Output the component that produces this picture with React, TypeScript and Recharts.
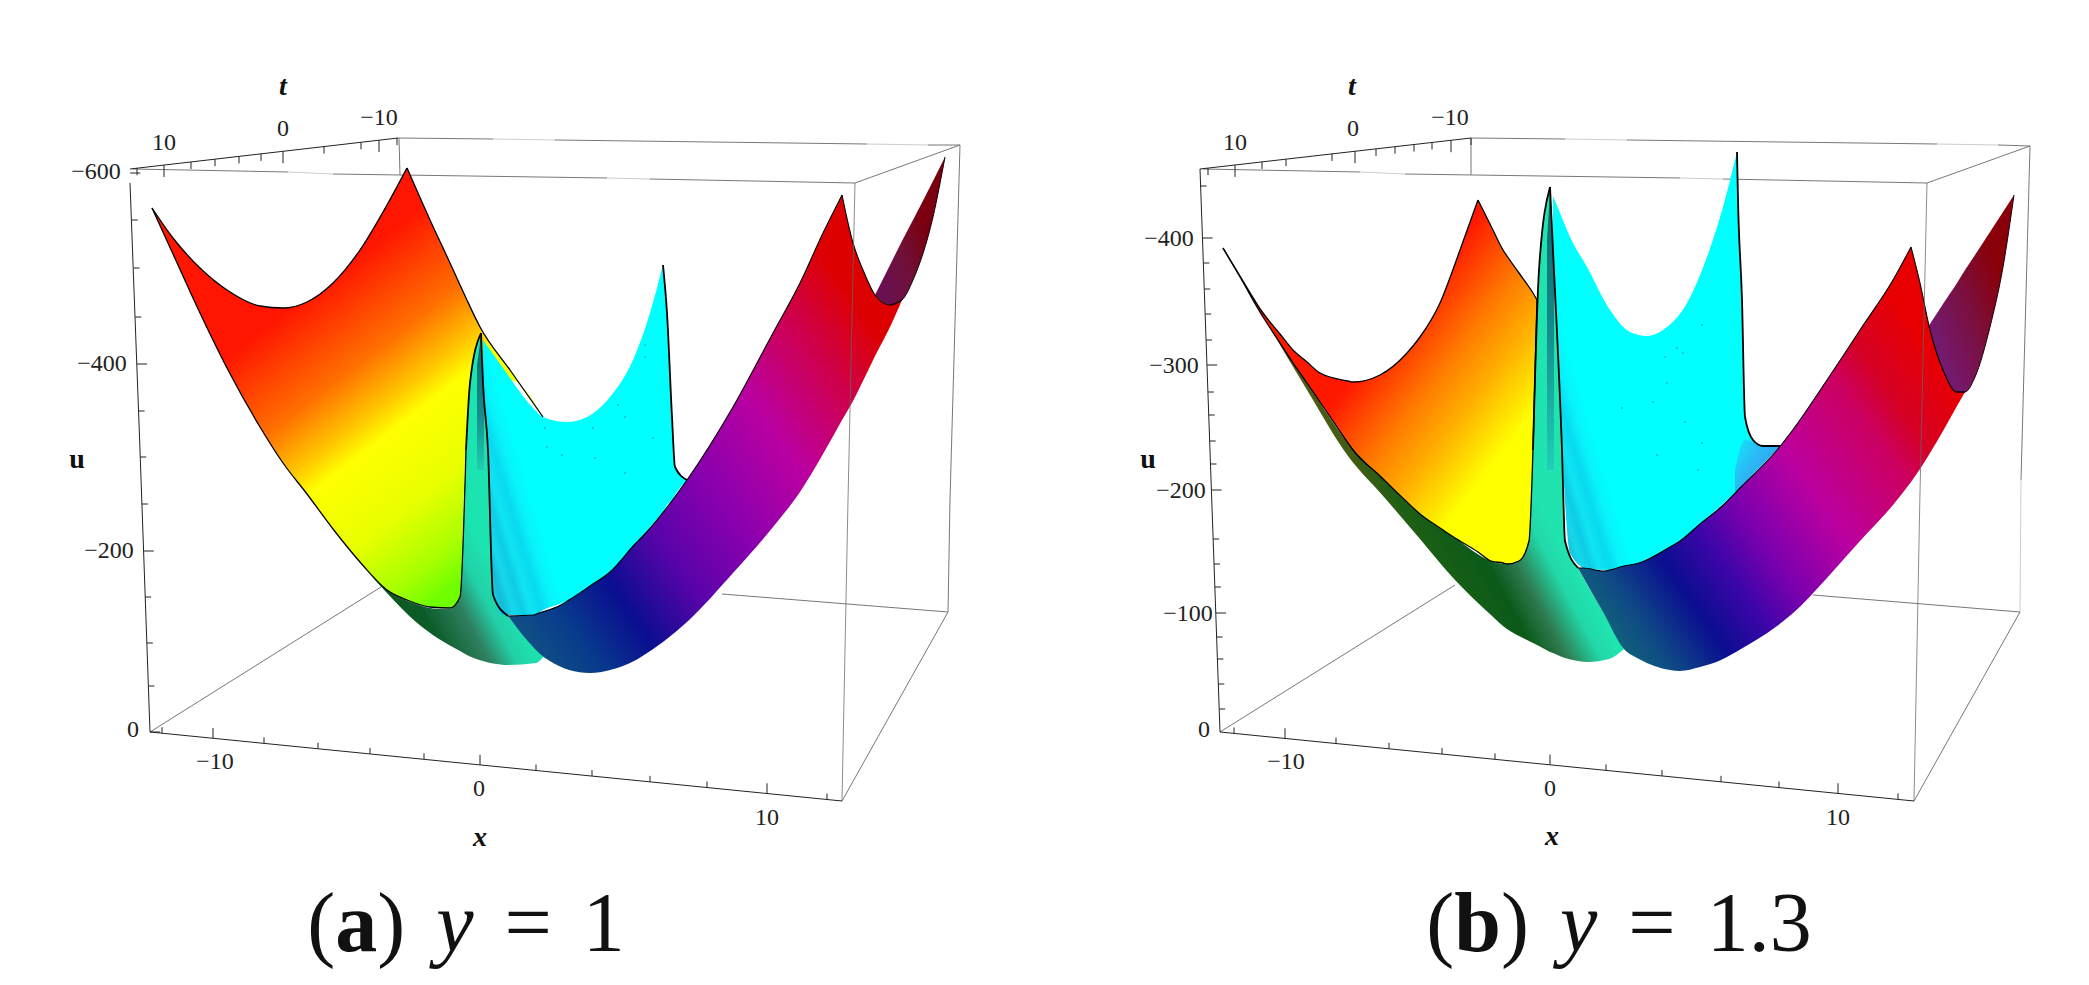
import { ComposedChart, Area, Line, Scatter, XAxis, YAxis } from "recharts";

const redXA = [152, 173, 200, 227, 260, 283, 307, 333, 360, 387, 407, 430, 450, 460, 466, 480, 510, 543];
const redTopA = [208, 238, 268, 290, 306, 308, 302, 283, 250, 205, 168, 220, 263, 285, 298, 327, 370, 417];
const redBottomA = [208, 254, 313, 368, 427, 463, 494, 529, 562, 590, 600, 607, 608, 597, 450, 400, 380, 417];

const tealXA = [350, 386, 416, 439, 449, 460, 466, 470, 481, 483, 488, 493, 508, 536, 544];
const tealTopA = [551, 589, 604, 609, 609, 597, 450, 383, 333, 383, 450, 595, 616, 647, 656];
const tealBottomA = [551, 592, 622, 639, 645, 651, 654.5, 656.5, 660.5, 661, 662.5, 663.5, 665, 663, 656];

const coreXA = [477, 481, 484];
const coreTopA = [365, 336, 390];
const coreBottomA = [470, 470, 470];

const cyanXA = [483, 488, 493, 503, 534, 543, 567, 587, 610, 633, 650, 663, 667, 672, 675, 687];
const cyanTopA = [340, 347, 354, 368, 409, 417, 422, 417, 397, 360, 313, 265, 313, 417, 467, 480];
const cyanBottomA = [383, 450, 595, 615, 615, 610, 601, 589, 572, 547, 527, 512, 505, 500, 495, 480];

const backXA = [875, 890, 902, 913, 933, 945];
const backTopA = [295, 265, 241, 220, 181, 157];
const backBottomA = [295, 305, 300, 280, 217, 157];

const frontXA = [508, 534, 539, 559, 569, 590, 610, 636, 641, 687, 733, 773, 800, 823, 842, 853, 863, 875, 890, 902];
const frontTopA = [616, 615, 613, 606, 600, 586, 572, 543, 538, 480, 407, 333, 283, 233, 195, 243, 270, 295, 305, 300];
const frontBottomA = [616, 648, 653, 666, 670, 673, 670, 660, 657, 622, 573, 527, 492, 454, 420, 401, 381, 356, 327, 300];

const redXB = [1223, 1240, 1263, 1280, 1293, 1307, 1320, 1348, 1353, 1380, 1407, 1420, 1440, 1455, 1460, 1478, 1491, 1503, 1507, 1519, 1529, 1533, 1537];
const redTopB = [248, 276, 313, 334, 350, 362, 373, 381, 382, 375, 353, 337, 303, 264, 250, 200, 226, 250, 256, 273, 287, 293, 300];
const redBottomB = [248, 277, 317, 343, 363, 383, 402, 443, 450, 476, 502, 514, 528, 538, 541, 552, 561, 563, 564, 561, 541, 450, 300];

const tealXB = [1270, 1307, 1348, 1384, 1420, 1455, 1491, 1507, 1519, 1529, 1533, 1539, 1550, 1553, 1562, 1565, 1578, 1588, 1609, 1624];
const tealTopB = [327, 383, 443, 480, 514, 538, 561, 564, 561, 541, 450, 270, 187, 250, 450, 541, 568, 586, 622, 649];
const tealBottomB = [328, 390, 456, 497, 539, 580, 615, 629, 636, 641, 643, 646, 652, 653, 657, 658, 661, 662, 659, 649];

const coreXB = [1547, 1550, 1554];
const coreTopB = [240, 190, 270];
const coreBottomB = [470, 470, 470];

const cyanXB = [1553, 1560, 1570, 1587, 1610, 1630, 1647, 1663, 1687, 1707, 1723, 1737, 1738, 1742, 1745, 1753, 1763, 1780];
const cyanTopB = [196, 213, 237, 267, 310, 332, 336, 330, 303, 257, 207, 152, 200, 300, 417, 440, 446, 446];
const cyanBottomB = [250, 405, 553, 569, 570, 566, 559, 551, 536, 518, 504, 491, 490, 486, 483, 474, 464, 446];

const shadeXB = [1735, 1745, 1753, 1763, 1780];
const shadeTopB = [470, 440, 441, 446, 446];
const shadeBottomB = [492, 483, 474, 464, 446];

const backXB = [1928, 1943, 1957, 1965, 1975, 1990, 2003, 2014];
const backTopB = [327, 304, 283, 270, 255, 232, 212, 195];
const backBottomB = [327, 370, 392, 392, 377, 327, 267, 195];

const frontXB = [1578, 1583, 1603, 1624, 1639, 1670, 1680, 1700, 1721, 1741, 1777, 1792, 1827, 1843, 1860, 1893, 1911, 1920, 1930, 1943, 1957, 1965];
const frontTopB = [568, 568, 571, 566, 563, 547, 541, 524, 507, 487, 450, 431, 380, 356, 330, 280, 247, 283, 330, 370, 392, 392];
const frontBottomB = [568, 577, 612, 649, 659, 670, 671, 667, 660, 649, 626, 614, 578, 560, 541, 505, 482, 469, 453, 431, 406, 392];

const specksA = [[545, 428], [618, 405], [625, 417], [645, 345], [645, 357], [653, 438], [593, 428], [595, 458], [562, 455], [547, 447], [625, 473]];
const specksB = [[1702, 325], [1677, 348], [1683, 353], [1665, 357], [1667, 383], [1653, 402], [1622, 408], [1685, 422], [1702, 443], [1657, 455], [1698, 470]];

// box edges behind the surfaces, each run is a list of corners
const boxBackA = [
  [[133, 169], [288, 172]], [[333, 174], [607, 178]], [[650, 179], [855, 183]],
  [[398, 138], [493, 139]], [[555, 140], [867, 144]], [[928, 145], [960, 145]],
  [[399, 138], [400, 175]], [[855, 183], [960, 145]], [[960, 145], [950, 500], [948, 612]],
  [[842, 801], [948, 612]], [[722, 594], [948, 612]], [[150, 732], [381, 587]],
];
const boxBackB = [
  [[1203, 169], [1360, 172]], [[1405, 174], [1680, 178]], [[1723, 179], [1927, 183]],
  [[1471, 138], [1565, 139]], [[1627, 140], [1937, 144]], [[1998, 145], [2030, 146]],
  [[1471, 138], [1471, 175]], [[1927, 183], [2030, 146]], [[2030, 146], [2021, 480]],
  [[1914, 801], [2020, 612]], [[1813, 595], [2020, 612]], [[1220, 732], [1455, 585]],
];
// the same edges fade out in the scan, these runs bridge the pale stretches
const boxFaint = [
  [[288, 172], [333, 174]], [[607, 178], [650, 179]], [[493, 139], [555, 140]], [[867, 144], [928, 145]],
  [[1360, 172], [1405, 174]], [[1680, 178], [1723, 179]], [[1565, 139], [1627, 140]], [[1937, 144], [1998, 145]],
  [[2021, 480], [2020, 612]],
];
const boxFrontA = [[[855, 183], [848, 500], [842, 801]]];
const boxFrontB = [[[1927, 183], [1920, 492], [1914, 801]]];

const zTicksA = [173, 220, 268, 317, 364, 411, 457, 504, 551, 597, 643, 686, 732];
const zMajorA = [173, 364, 551, 732];
const zTicksB = [186, 238, 263, 289, 314, 340, 365, 392, 415, 441, 464, 490, 539, 564, 587, 613, 637, 659, 684, 709];
const zMajorB = [238, 365, 490, 613];
const tTicksA = [137, 164, 191, 215, 239, 261, 283, 324, 361, 379, 397];
const tMajorA = [164, 283, 379];
const tTicksB = [1208, 1235, 1262, 1286, 1332, 1355, 1376, 1395, 1414, 1432, 1451, 1471];
const tMajorB = [1235, 1355, 1451];
const xTicksA = [162, 213, 264, 318, 370, 424, 480, 536, 592, 650, 707, 767, 827];
const xMajorA = [213, 480, 767];
const xTicksB = [1234, 1285, 1336, 1389, 1442, 1495, 1550, 1606, 1662, 1721, 1779, 1838, 1898];
const xMajorB = [1285, 1550, 1838];

const tickLabels = [
  { x: 164, y: 142, text: "10" }, { x: 283, y: 128, text: "0" }, { x: 379, y: 117, text: "−10" },
  { x: 96, y: 171, text: "−600" }, { x: 102, y: 363, text: "−400" }, { x: 109, y: 550, text: "−200" },
  { x: 133, y: 729, text: "0" }, { x: 215, y: 761, text: "−10" }, { x: 479, y: 788, text: "0" }, { x: 767, y: 817, text: "10" },
  { x: 1235, y: 142, text: "10" }, { x: 1353, y: 128, text: "0" }, { x: 1450, y: 117, text: "−10" },
  { x: 1169, y: 238, text: "−400" }, { x: 1174, y: 365, text: "−300" }, { x: 1181, y: 490, text: "−200" },
  { x: 1188, y: 613, text: "−100" }, { x: 1204, y: 729, text: "0" }, { x: 1286, y: 761, text: "−10" },
  { x: 1550, y: 788, text: "0" }, { x: 1838, y: 817, text: "10" },
];
const axisNames = [
  { x: 283, y: 85, text: "t", italic: true }, { x: 77, y: 458, text: "u", italic: false }, { x: 480, y: 836, text: "x", italic: true },
  { x: 1352, y: 85, text: "t", italic: true }, { x: 1148, y: 458, text: "u", italic: false }, { x: 1552, y: 835, text: "x", italic: true },
];
const captions = [
  { x: 466, y: 922, tag: "a", value: "1" },
  { x: 1619, y: 922, tag: "b", value: "1.3" },
];

const zip = (xs: number[], ys: number[]) => xs.map((x, i) => ({ x, y: ys[i] }));
const band = (xs: number[], top: number[], bottom: number[]) => xs.map((x, i) => ({ x, range: [top[i], bottom[i]] }));
const runs = (list: number[][][]) => list.flatMap((run) => [...run.map(([x, y]) => ({ x, y })), { x: run[run.length - 1][0], y: null }]);
// spline pieces meet at the cusps so the tips stay sharp
const cut = <T,>(list: T[], at: number[]) => {
  const ends = [0, ...at, list.length - 1];
  return ends.slice(1).map((e, i) => list.slice(ends[i], e + 1));
};

// tick marks hang off an axis edge; the base point slides along the edge
const ticks = (from: number[], to: number[], along: number[], major: number[], dx: number, dy: number, vertical: boolean) =>
  along.flatMap((v) => {
    const t = vertical ? (v - from[1]) / (to[1] - from[1]) : (v - from[0]) / (to[0] - from[0]);
    const x = from[0] + t * (to[0] - from[0]);
    const y = from[1] + t * (to[1] - from[1]);
    const k = major.includes(v) ? 1.7 : 1;
    return [{ x, y }, { x: x + dx * k, y: y + dy * k }, { x, y: null }];
  });

const axesA = [
  ...runs([[[130, 169], [398, 138]], [[130, 183], [140, 450], [150, 732]], [[150, 732], [842, 801]]]),
  ...ticks([130, 169], [150, 732], zTicksA, zMajorA, 6, 0, true),
  ...ticks([130, 169], [398, 138], tTicksA, tMajorA, 0, 7, false),
  ...ticks([150, 732], [842, 801], xTicksA, xMajorA, 0, -6, false),
];
const axesB = [
  ...runs([[[1200, 169], [1471, 138]], [[1200, 169], [1220, 732]], [[1220, 732], [1914, 801]]]),
  ...ticks([1200, 169], [1220, 732], zTicksB, zMajorB, 6, 0, true),
  ...ticks([1200, 169], [1471, 138], tTicksB, tMajorB, 0, 7, false),
  ...ticks([1220, 732], [1914, 801], xTicksB, xMajorB, 0, -6, false),
];

type Stop = [number, string];
const Grad = ({ id, v, stops }: { id: string; v: number[]; stops: Stop[] }) => (
  <linearGradient id={id} gradientUnits="userSpaceOnUse" x1={v[0]} y1={v[1]} x2={v[2]} y2={v[3]}>
    {stops.map(([o, c]) => (
      <stop key={o} offset={o} stopColor={c} />
    ))}
  </linearGradient>
);

const cyanStops: Stop[] = [
  [0, "#1aa8c4"], [0.08, "#1cc8e0"], [0.16, "#14bcd8"], [0.24, "#16d8ea"], [0.32, "#0ecce6"],
  [0.4, "#10e4f2"], [0.5, "#08daf0"], [0.6, "#08f2fa"], [0.72, "#00ffff"], [1, "#00ffff"],
];
const sheet = (key: string, data: object[], fill: string, at: number[] = []) =>
  cut(data, at).map((piece, i) => (
    <Area key={key + i} data={piece} dataKey="range" type="monotoneX" stroke="none" fill={fill} fillOpacity={1} dot={false} activeDot={false} isAnimationActive={false} zIndex={100} />
  ));
const edge = (key: string, data: object[], at: number[] = [], width = 1.3, color = "#000") =>
  cut(data, at).map((piece, i) => (
    <Line key={key + i} data={piece} dataKey="y" type="monotoneX" stroke={color} strokeWidth={width} dot={false} activeDot={false} isAnimationActive={false} zIndex={400} />
  ));
const box = (key: string, data: object[], color: string, opacity = 1, z = 50) => (
  <Line key={key} data={data} dataKey="y" type="linear" stroke={color} strokeWidth={1} strokeOpacity={opacity} dot={false} activeDot={false} isAnimationActive={false} zIndex={z} />
);

const TickText = (p: any) => (
  <text x={p.cx} y={p.cy} textAnchor="middle" dominantBaseline="central" fontFamily="Liberation Serif" fontSize={24} fill="#222">
    {p.payload.text}
  </text>
);
const NameText = (p: any) => (
  <text x={p.cx} y={p.cy} textAnchor="middle" dominantBaseline="central" fontFamily="Liberation Serif" fontSize={28} fontWeight="bold" fontStyle={p.payload.italic ? "italic" : "normal"} fill="#111">
    {p.payload.text}
  </text>
);
const CaptionText = (p: any) => (
  <text x={p.cx} y={p.cy} textAnchor="middle" dominantBaseline="central" fontFamily="Liberation Serif" fontSize={84} wordSpacing={10} fill="#111">
    (<tspan fontWeight="bold">{p.payload.tag}</tspan>) <tspan fontStyle="italic">y</tspan> = {p.payload.value}
  </text>
);
const Speck = (p: any) => <circle cx={p.cx} cy={p.cy} r={0.8} fill="#0a8fa0" />;

export default function App() {
  return (
    <div style={{ position: "absolute", left: 0, top: 0, width: 2089, height: 985, background: "#fff" }}>
      <ComposedChart width={2089} height={985} margin={{ top: 0, right: 0, bottom: 0, left: 0 }}>
        <defs>
          <Grad id="redA" v={[300, 300, 495, 553]} stops={[[0, "#ff1500"], [0.27, "#ff7000"], [0.42, "#ffc800"], [0.5, "#ffff00"], [0.72, "#e8ff00"], [0.9, "#a8ff00"], [1, "#70ff00"]]} />
          <Grad id="redB" v={[1300, 446, 1474, 580]} stops={[[0, "#ff1800"], [0.3, "#ff7a00"], [0.5, "#ffb000"], [0.75, "#ffff00"], [1, "#ffff00"]]} />
          <Grad id="tealA" v={[350, 551, 456, 495]} stops={[[0, "#0a5a14"], [0.3, "#0c5c2a"], [0.6, "#2f8060"], [0.8, "#22d0a8"], [1, "#1ce4b0"]]} />
          <Grad id="tealB" v={[1300, 391, 1441, 316]} stops={[[0, "#5d5a12"], [0.22, "#1d5f14"], [0.53, "#0a5a1a"], [0.69, "#2f7a50"], [0.88, "#22d8a8"], [1, "#20e4b0"]]} />
          <Grad id="coreA" v={[0, 335, 0, 470]} stops={[[0, "#0c6468"], [0.6, "#12908c"], [1, "#20d0b0"]]} />
          <Grad id="coreB" v={[0, 190, 0, 470]} stops={[[0, "#0c6468"], [0.5, "#128c8c"], [1, "#20d0b8"]]} />
          <Grad id="cyanA" v={[490, 620, 590, 590]} stops={cyanStops} />
          <Grad id="cyanB" v={[1565, 600, 1665, 570]} stops={cyanStops} />
          <Grad id="shadeB" v={[1735, 440, 1780, 470]} stops={[[0, "#10e8fa"], [0.5, "#2cb8f4"], [1, "#2a9cf0"]]} />
          <Grad id="backA" v={[885, 290, 940, 270]} stops={[[0, "#6a1050"], [0.5, "#701038"], [1, "#7a0010"]]} />
          <Grad id="backB" v={[1930, 330, 2010, 300]} stops={[[0, "#741a72"], [0.5, "#7a1040"], [1, "#8a0008"]]} />
          <Grad id="frontA" v={[520, 748, 979, 429]} stops={[[0, "#10607a"], [0.12, "#0f4f85"], [0.2, "#083a8c"], [0.3, "#0a0e90"], [0.42, "#5a03aa"], [0.55, "#8a00ae"], [0.7, "#bb00a0"], [0.85, "#d00045"], [0.95, "#dd0000"], [1, "#dd0000"]]} />
          <Grad id="frontB" v={[1600, 617, 1961, 366]} stops={[[0, "#10607a"], [0.07, "#0f4a85"], [0.19, "#0a0e90"], [0.3, "#3d05a8"], [0.4, "#7a00ae"], [0.56, "#bb00a0"], [0.75, "#cc0060"], [0.83, "#d50025"], [0.97, "#e80000"], [1, "#e80000"]]} />
        </defs>
        <XAxis dataKey="x" type="number" domain={[0, 2089]} allowDataOverflow hide />
        <YAxis dataKey="y" type="number" domain={[0, 985]} reversed allowDataOverflow hide />

        {box("boxFaint", runs(boxFaint), "#ccc")}
        {box("boxBackA", runs(boxBackA), "#777")}
        {box("boxBackB", runs(boxBackB), "#777")}

        {sheet("redA", band(redXA, redTopA, redBottomA), "url(#redA)", [10])}
        {sheet("tealA", band(tealXA, tealTopA, tealBottomA), "url(#tealA)", [8])}
        {sheet("coreA", band(coreXA, coreTopA, coreBottomA), "url(#coreA)", [1])}
        {sheet("cyanA", band(cyanXA, cyanTopA, cyanBottomA), "url(#cyanA)", [11])}
        {sheet("backA", band(backXA, backTopA, backBottomA), "url(#backA)")}
        {sheet("frontA", band(frontXA, frontTopA, frontBottomA), "url(#frontA)", [14])}

        {sheet("redB", band(redXB, redTopB, redBottomB), "url(#redB)", [15])}
        {sheet("tealB", band(tealXB, tealTopB, tealBottomB), "url(#tealB)", [12])}
        {sheet("coreB", band(coreXB, coreTopB, coreBottomB), "url(#coreB)", [1])}
        {sheet("cyanB", band(cyanXB, cyanTopB, cyanBottomB), "url(#cyanB)", [11])}
        {sheet("shadeB", band(shadeXB, shadeTopB, shadeBottomB), "url(#shadeB)")}
        {sheet("backB", band(backXB, backTopB, backBottomB), "url(#backB)")}
        {sheet("frontB", band(frontXB, frontTopB, frontBottomB), "url(#frontB)", [16])}

        {edge("redTopA", zip(redXA, redTopA), [10])}
        {edge("redBottomA", zip(redXA.slice(0, 15), redBottomA.slice(0, 15)))}
        {edge("spikeA", zip(tealXA.slice(6, 13), tealTopA.slice(6, 13)), [2], 1.8)}
        {edge("cyanRightA", zip(cyanXA.slice(11), cyanTopA.slice(11)), [], 1.8)}
        {edge("frontTopA", zip(frontXA, frontTopA), [14], 1.1)}
        {edge("backEdgeA", zip(backXA.slice(1), backBottomA.slice(1)), [], 1, "#1a0010")}

        {edge("redTopB", zip(redXB, redTopB), [15])}
        {edge("redBottomB", zip(redXB, redBottomB))}
        {edge("spikeB", zip(tealXB.slice(10, 17), tealTopB.slice(10, 17)), [2], 1.8)}
        {edge("cyanRightB", zip(cyanXB.slice(11), cyanTopB.slice(11)), [], 1.8)}
        {edge("frontTopB", zip(frontXB, frontTopB), [16], 1.1)}
        {edge("backEdgeB", zip(backXB.slice(1), backBottomB.slice(1)), [], 1, "#1a0010")}

        {box("boxFrontA", runs(boxFrontA), "#666", 0.75, 400)}
        {box("boxFrontB", runs(boxFrontB), "#666", 0.75, 400)}
        {box("axesA", axesA, "#222", 1, 400)}
        {box("axesB", axesB, "#222", 1, 400)}

        <Scatter data={zip(specksA.map((p) => p[0]), specksA.map((p) => p[1]))} shape={Speck} isAnimationActive={false} />
        <Scatter data={zip(specksB.map((p) => p[0]), specksB.map((p) => p[1]))} shape={Speck} isAnimationActive={false} />
        <Scatter data={tickLabels} shape={TickText} isAnimationActive={false} />
        <Scatter data={axisNames} shape={NameText} isAnimationActive={false} />
        <Scatter data={captions} shape={CaptionText} isAnimationActive={false} />
      </ComposedChart>
    </div>
  );
}
